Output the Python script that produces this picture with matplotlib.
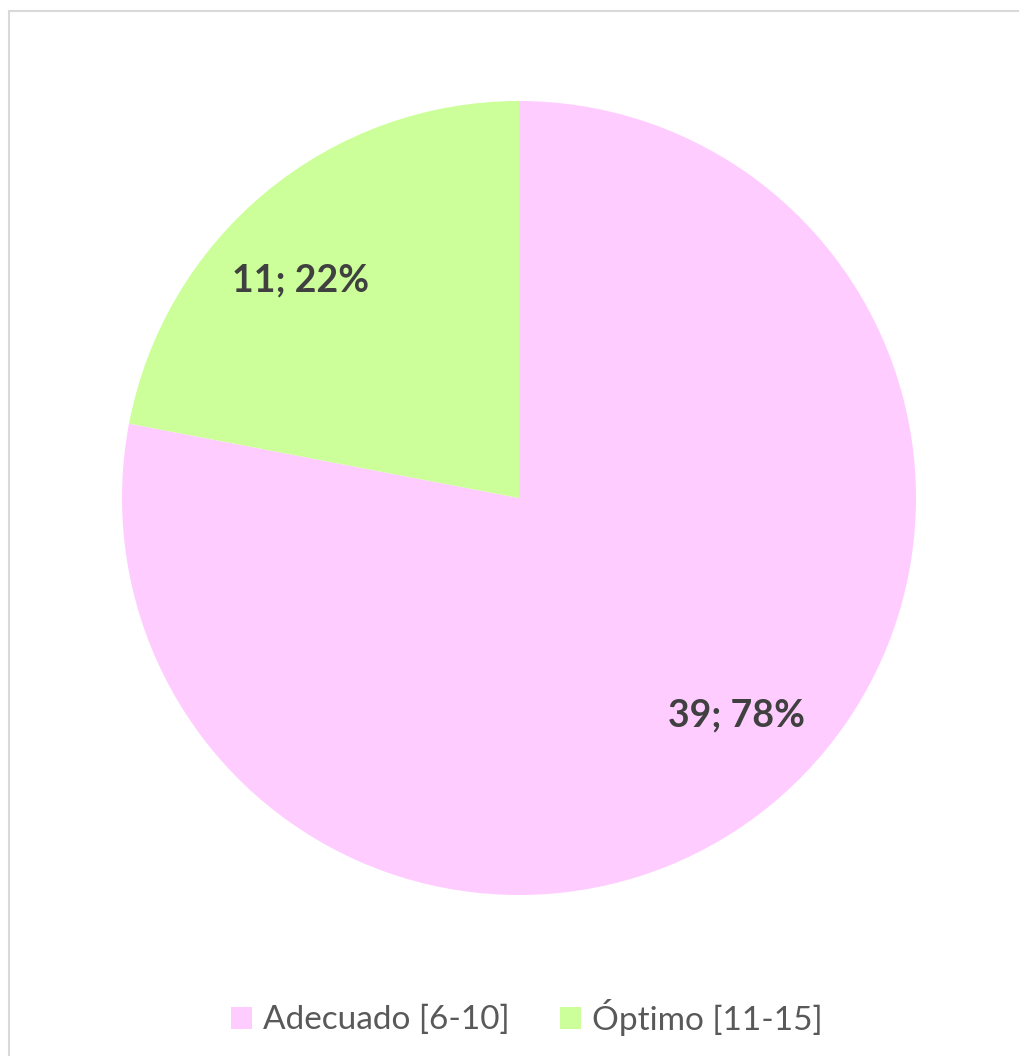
import numpy as np
import matplotlib.pyplot as plt
from matplotlib.patches import Rectangle

plt.rcParams['font.family'] = ['Lato', 'DejaVu Sans']

# counts per score range
categories = ['Adecuado [6-10]', 'Óptimo [11-15]']
counts = [39, 11]
colors = ['#FFCCFF', '#CCFF99']

total = sum(counts)


def fmt(pct):
    n = int(round(pct * total / 100.0))
    return f'{n}; {pct:.0f}%'


fig = plt.figure(figsize=(10.2, 10.56), dpi=100)

# pie area: centre at (519, 498) px, radius ~397 px
cx, cy, r = 519 / 1020, 1 - 498 / 1056, 397
ax = fig.add_axes([cx - r / 1020, cy - r / 1056, 2 * r / 1020, 2 * r / 1056])

wedges, texts, autotexts = ax.pie(
    counts, colors=colors, startangle=90, counterclock=False,
    autopct=fmt, pctdistance=0.775, radius=1.0,
    wedgeprops=dict(linewidth=0),
    textprops=dict(fontsize=27, fontweight='bold', color='#404040'))
ax.set_xlim(-1, 1)
ax.set_ylim(-1, 1)
ax.set_aspect('auto')

# nudge the labels a little counter-clockwise, like the "best fit" placement
shift = 5.5
for w, t in zip(wedges, autotexts):
    mid = np.deg2rad((w.theta1 + w.theta2) / 2 + shift)
    t.set_position((0.775 * np.cos(mid), 0.775 * np.sin(mid)))

# chart frame (right and bottom edges run off the canvas)
fig.patches.append(Rectangle((9 / 1020, -0.1), 1.2, 1 - 11 / 1056 + 0.1,
                             transform=fig.transFigure, fill=False,
                             edgecolor='#d9d9d9', linewidth=1.5))

leg = fig.legend(wedges, categories, loc='center', ncol=2,
                 bbox_to_anchor=(527 / 1020, 1 - 1017 / 1056), frameon=False,
                 fontsize=24, handlelength=0.64, handleheight=0.64,
                 handletextpad=0.33, columnspacing=1.5)
for t in leg.get_texts():
    t.set_color('#595959')

fig.savefig('out.png', dpi=100)
